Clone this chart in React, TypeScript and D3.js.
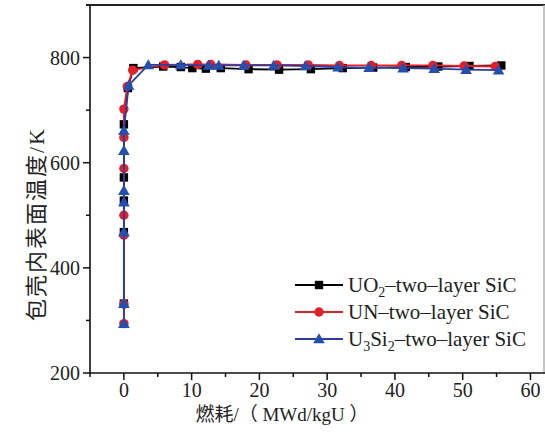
import React from "react";
import * as d3 from "d3";

const xTicks = [0, 10, 20, 30, 40, 50, 60];
const xMinor = [-5, 5, 15, 25, 35, 45, 55];
const yTicks = [200, 400, 600, 800];
const yMinor = [300, 500, 700];

const seriesNames = ["UO2", "UN", "U3Si2"];
const seriesColors = ["#000000", "#e3202a", "#2a3f9e"];

const uo2X = [0, 0, 0, 0, 0, 0.6, 1.4, 5.8, 8.4, 10.1, 12.1, 14.3, 18.4, 22.9, 27.6, 32.3, 36.8, 41.6, 46.4, 51.0, 55.7];
const uo2Y = [332, 468, 528, 572, 673, 742, 780, 783, 782, 780, 779, 780, 778, 777, 778, 780, 781, 782, 783, 784, 785];

const unX = [0, 0, 0, 0, 0, 0, 0, 0.5, 1.3, 6.0, 10.9, 12.8, 18.0, 22.6, 27.2, 31.8, 36.5, 41.0, 45.6, 50.2, 54.8];
const unY = [294, 331, 462, 500, 589, 648, 702, 745, 776, 786, 787, 787, 786, 786, 786, 785, 785, 785, 785, 784, 783];

const u3si2X = [0, 0, 0, 0, 0, 0, 0, 0.7, 3.6, 8.4, 12.5, 14.0, 17.7, 22.1, 26.8, 31.6, 36.2, 41.2, 45.8, 50.5, 55.3];
const u3si2Y = [294, 332, 468, 525, 547, 623, 661, 747, 786, 786, 785, 785, 785, 785, 784, 782, 781, 780, 779, 777, 776];

const W = 545;
const H = 436;
const L = 90;
const R = 544;
const T = 5;
const B = 373;

export default function App() {
  const x = d3.scaleLinear().domain([-5, 62]).range([L, R]);
  const y = d3.scaleLinear().domain([200, 900]).range([B, T]);
  const line = d3
    .line<[number, number]>()
    .x((d) => x(d[0]))
    .y((d) => y(d[1]));

  const data: [number, number][][] = [
    uo2X.map((v, i) => [v, uo2Y[i]] as [number, number]),
    unX.map((v, i) => [v, unY[i]] as [number, number]),
    u3si2X.map((v, i) => [v, u3si2Y[i]] as [number, number]),
  ];

  const marker = (k: number, cx: number, cy: number, key: string) => {
    const c = seriesColors[k];
    if (k === 0) return <rect key={key} x={cx - 4.2} y={cy - 4.2} width={8.4} height={8.4} fill={c} />;
    if (k === 1) return <circle key={key} cx={cx} cy={cy} r={4.7} fill={c} />;
    const s = 5.8;
    return (
      <path
        key={key}
        d={`M${cx},${cy - s}L${cx + s},${cy + s * 0.75}L${cx - s},${cy + s * 0.75}Z`}
        fill="#2350b0"
      />
    );
  };

  const font = "'Liberation Serif', 'Times New Roman', serif";
  const cjkFont = "'Liberation Serif', 'Noto Sans CJK SC', serif";
  const legendLabels = [
    <>
      UO<tspan fontSize={14} dy={5}>2</tspan>
      <tspan dy={-5}>–two–layer SiC</tspan>
    </>,
    <>UN–two–layer SiC</>,
    <>
      U<tspan fontSize={14} dy={5}>3</tspan>
      <tspan dy={-5}>Si</tspan>
      <tspan fontSize={14} dy={5}>2</tspan>
      <tspan dy={-5}>–two–layer SiC</tspan>
    </>,
  ];
  const legendY = [285, 312, 339];

  return (
    <div style={{ position: "absolute", left: 0, top: 0 }}>
      <svg width={W} height={H} style={{ display: "block", background: "#fff" }} fontFamily={font}>
        {/* frame */}
        <line x1={L - 4} x2={R + 1} y1={T} y2={T} stroke="#222" strokeWidth={2} />
        <line x1={R} x2={R} y1={T} y2={B} stroke="#b0b0b0" strokeWidth={1.5} />
        <line x1={L} x2={L} y1={T} y2={B + 1} stroke="#111" strokeWidth={1.6} />
        <line x1={L - 1} x2={R + 1} y1={B} y2={B} stroke="#111" strokeWidth={1.6} />
        {/* x ticks */}
        {xTicks.map((t) => (
          <g key={"xt" + t}>
            <line x1={x(t)} x2={x(t)} y1={B} y2={B + 7} stroke="#111" strokeWidth={1.5} />
            <text x={x(t)} y={B + 24} textAnchor="middle" fontSize={20} fill="#222">
              {t}
            </text>
          </g>
        ))}
        {xMinor.map((t) => (
          <line key={"xm" + t} x1={x(t)} x2={x(t)} y1={B} y2={B + 4} stroke="#111" strokeWidth={1.5} />
        ))}
        {/* y ticks */}
        {yTicks.map((t) => (
          <g key={"yt" + t}>
            <line x1={L - 7} x2={L} y1={y(t)} y2={y(t)} stroke="#111" strokeWidth={1.5} />
            <text x={L - 10} y={y(t) + 7} textAnchor="end" fontSize={20} fill="#222">
              {t}
            </text>
          </g>
        ))}
        {yMinor.map((t) => (
          <line key={"ym" + t} x1={L - 4} x2={L} y1={y(t)} y2={y(t)} stroke="#111" strokeWidth={1.5} />
        ))}
        {/* series */}
        {data.map((d, k) => (
          <g key={"s" + k}>
            <path d={line(d) || ""} fill="none" stroke={seriesColors[k]} strokeWidth={1.8} />
            {d.map((p, i) => marker(k, x(p[0]), y(p[1]), `m${k}-${i}`))}
          </g>
        ))}
        {/* legend */}
        {seriesNames.map((n, k) => (
          <g key={"lg" + n}>
            <line x1={295} x2={343} y1={legendY[k]} y2={legendY[k]} stroke={seriesColors[k]} strokeWidth={1.8} />
            {marker(k, 319, legendY[k], "lm" + k)}
            <text x={348} y={legendY[k] + 7} fontSize={21} fill="#222">
              {legendLabels[k]}
            </text>
          </g>
        ))}
        {/* axis titles */}
        <text x={282} y={421} textAnchor="middle" fontSize={19} fill="#222" fontFamily={cjkFont}>
          燃耗/（ MWd/kgU ）
        </text>
        <text
          transform={`translate(44, 224) rotate(-90)`}
          textAnchor="middle"
          fontSize={22}
          letterSpacing={2}
          fill="#222"
          fontFamily={cjkFont}
        >
          包壳内表面温度/K
        </text>
      </svg>
    </div>
  );
}
